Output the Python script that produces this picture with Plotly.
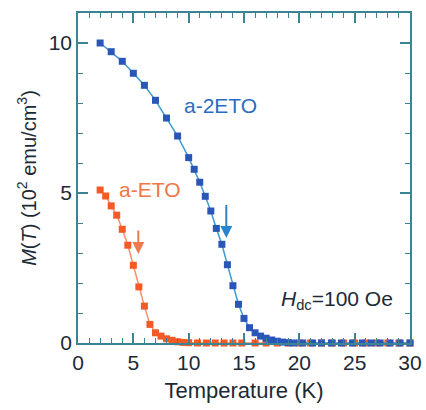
import plotly.graph_objects as go

# a-2ETO (blue)
t_2eto = [2, 3, 4, 5, 6, 7, 8, 9, 10, 10.5, 11, 11.5, 12, 12.5, 13, 13.5, 14, 14.5, 15, 15.5,
          16, 16.5, 17, 17.5, 18, 18.5, 19, 19.5, 20.3, 21.2, 22.0, 22.9, 23.8, 24.8, 25.7, 26.5,
          27.3, 28.2, 29.1, 30]
m_2eto = [10.0, 9.71, 9.39, 8.99, 8.59, 8.09, 7.5, 6.9, 6.18, 5.79, 5.36, 4.89, 4.4, 3.82, 3.29,
          2.61, 1.91, 1.29, 0.82, 0.51, 0.34, 0.23, 0.16, 0.1, 0.06, 0.03, 0.01, 0.0, 0.0, 0.0,
          0.0, 0.0, 0.0, 0.0, 0.0, 0.0, 0.0, 0.0, 0.0, 0.0]

# a-ETO (red)
t_eto = [2, 2.5, 3, 3.5, 4, 4.5, 5, 5.5, 6, 6.5, 7, 7.5, 8, 8.5, 9, 9.5, 10, 10.8, 11.6, 12.4,
         13.2, 14, 14.8, 16, 17, 18, 19, 20, 21, 22, 23, 24, 25, 26, 27, 28, 29, 30]
m_eto = [5.1, 4.9, 4.57, 4.26, 3.79, 3.26, 2.59, 1.87, 1.23, 0.62, 0.34, 0.23, 0.14, 0.09, 0.04,
         0.02, 0.01, 0.0, 0.0, 0.0, 0.0, 0.0, 0.0, 0.0, 0.0, 0.0, 0.0, 0.0, 0.0, 0.0, 0.0, 0.0,
         0.0, 0.0, 0.0, 0.0, 0.0, 0.0]

x_ticks = [0, 5, 10, 15, 20, 25, 30]
y_ticks = [0, 5, 10]

AXIS = "#3a8494"
TXT = "#1c2a36"
FONT = "Liberation Sans, Arial, sans-serif"

fig = go.Figure()
fig.add_trace(go.Scatter(
    x=t_eto, y=m_eto, mode="lines+markers",
    line=dict(color="#f3906a", width=1.5),
    marker=dict(symbol="square", size=7, color="#f25a26"),
    showlegend=False, cliponaxis=False))
fig.add_trace(go.Scatter(
    x=t_2eto, y=m_2eto, mode="lines+markers",
    line=dict(color="#3f9ad4", width=1.5),
    marker=dict(symbol="square", size=7, color="#2a56b8"),
    showlegend=False, cliponaxis=False))

fig.add_annotation(x=13.4, y=3.5, ax=13.4, ay=4.65, xref="x", yref="y", axref="x", ayref="y",
                   text="", showarrow=True, arrowhead=2, arrowsize=1.2, arrowwidth=2,
                   arrowcolor="#2a86cc")
fig.add_annotation(x=5.45, y=2.97, ax=5.45, ay=3.8, xref="x", yref="y", axref="x", ayref="y",
                   text="", showarrow=True, arrowhead=2, arrowsize=1.2, arrowwidth=2,
                   arrowcolor="#f07a50")
fig.add_annotation(x=12.9, y=7.93, xref="x", yref="y", text="a-2ETO", showarrow=False,
                   font=dict(family=FONT, size=21, color="#2a6cc0"))
fig.add_annotation(x=6.45, y=5.13, xref="x", yref="y", text="a-ETO", showarrow=False,
                   font=dict(family=FONT, size=21, color="#f07548"))
fig.add_annotation(x=28.6, y=1.45, xref="x", yref="y", xanchor="right",
                   text="<i>H</i><sub>dc</sub>=100 Oe", showarrow=False,
                   font=dict(family=FONT, size=21, color=TXT))

axis_common = dict(
    showline=True, linecolor=AXIS, linewidth=1.5, mirror="allticks",
    ticks="inside", ticklen=10, tickwidth=1.5, tickcolor=AXIS,
    showgrid=False, zeroline=False, automargin=False,
    tickfont=dict(family=FONT, size=21, color=TXT),
    minor=dict(ticks="inside", ticklen=5, tickwidth=1.2, tickcolor=AXIS, dtick=1, showgrid=False),
)

fig.update_xaxes(range=[0, 30], tickvals=x_ticks, ticktext=[str(v) for v in x_ticks],
                 title=dict(text="Temperature (K)", font=dict(family=FONT, size=22, color=TXT),
                            standoff=10),
                 **axis_common)
fig.update_yaxes(range=[0, 11], tickvals=y_ticks, ticktext=[str(v) for v in y_ticks],
                 title=dict(text="<i>M</i>(<i>T</i>) (10<sup>2</sup> emu/cm<sup>3</sup>)",
                            font=dict(family=FONT, size=20, color=TXT), standoff=7),
                 **axis_common)

fig.update_layout(
    width=426, height=410,
    margin=dict(l=78, r=16, t=13, b=67),
    plot_bgcolor="white", paper_bgcolor="white",
)

fig.write_html("out.html", config={"displayModeBar": False},
               post_script="document.body.style.margin='0';document.body.style.overflow='hidden';")
